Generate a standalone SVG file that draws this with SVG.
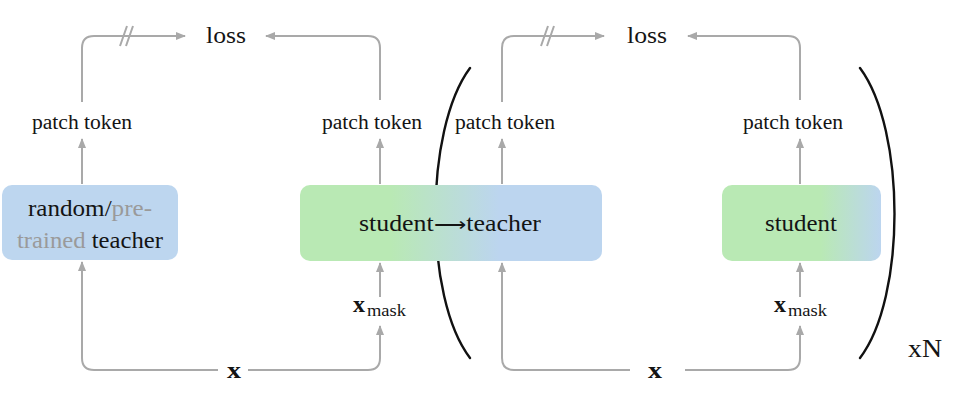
<svg xmlns="http://www.w3.org/2000/svg" width="975" height="415" viewBox="0 0 975 415" font-family="'Liberation Serif', 'Times New Roman', serif">
<style>
.t{font-family:'Liberation Serif','Times New Roman',serif;fill:#141414}
.g{fill:#9a9a9a}
.b{font-weight:bold}
.c{fill:none;stroke:#a9a9a9;stroke-width:2}
.br{fill:none;stroke:#111;stroke-width:2.4;stroke-linecap:round}
</style>
<defs>
<marker id="ah" markerWidth="10" markerHeight="8" refX="9" refY="4" orient="auto" markerUnits="userSpaceOnUse">
<path d="M0,0 L10,4 L0,8 Z" fill="#a9a9a9"/>
</marker>
<linearGradient id="gm" x1="0" y1="0" x2="1" y2="0">
<stop offset="0.3" stop-color="#b9e9b4"/>
<stop offset="0.66" stop-color="#bcd5ef"/>
</linearGradient>
<linearGradient id="gr" x1="0" y1="0" x2="1" y2="0">
<stop offset="0.62" stop-color="#b9e9b4"/>
<stop offset="1" stop-color="#bcd5ef"/>
</linearGradient>
</defs>
<rect width="975" height="415" fill="#fff"/>

<g id="brackets">
<path class="br" d="M470,68 C424,130 424,298 470,358"/>
<path class="br" d="M860,68 C906,130 906,298 860,358"/>
</g>

<g id="connectors">
<path class="c" d="M82,102 V48 Q82,36 94,36 H185" marker-end="url(#ah)"/>
<path class="c" d="M120,46 L127,26 M126,46 L133,26"/>
<path class="c" d="M380,100 V48 Q380,36 368,36 H266" marker-end="url(#ah)"/>
<path class="c" d="M82,184 V139" marker-end="url(#ah)"/>
<path class="c" d="M380,184 V139" marker-end="url(#ah)"/>
<path class="c" d="M218,370 H94 Q82,370 82,358 V262" marker-end="url(#ah)"/>
<path class="c" d="M248,370 H368 Q380,370 380,358 V326" marker-end="url(#ah)"/>
<path class="c" d="M380,297 V263" marker-end="url(#ah)"/>

<path class="c" d="M502,102 V48 Q502,36 514,36 H604" marker-end="url(#ah)"/>
<path class="c" d="M541,46 L548,26 M547,46 L554,26"/>
<path class="c" d="M800,100 V48 Q800,36 788,36 H688" marker-end="url(#ah)"/>
<path class="c" d="M502,184 V139" marker-end="url(#ah)"/>
<path class="c" d="M800,184 V139" marker-end="url(#ah)"/>
<path class="c" d="M630,370 H514 Q502,370 502,358 V263" marker-end="url(#ah)"/>
<path class="c" d="M685,370 H788 Q800,370 800,358 V326" marker-end="url(#ah)"/>
<path class="c" d="M800,297 V263" marker-end="url(#ah)"/>
</g>

<g id="teacher0">
<rect x="2" y="185" width="176" height="75" rx="10" fill="#bdd6ef"/>
<text class="t" x="90" y="216" font-size="23" text-anchor="middle" textLength="124" lengthAdjust="spacingAndGlyphs">random/<tspan class="g">pre-</tspan></text>
<text class="t" x="90" y="248" font-size="23" text-anchor="middle" textLength="146" lengthAdjust="spacingAndGlyphs"><tspan class="g">trained</tspan> teacher</text>
</g>

<g id="student-teacher">
<rect x="300" y="185" width="302" height="76" rx="10" fill="url(#gm)"/>
<text class="t" x="450" y="231" font-size="23" text-anchor="middle" textLength="182" lengthAdjust="spacingAndGlyphs">student<tspan font-size="20">⟶</tspan>teacher</text>
</g>

<g id="student">
<rect x="722" y="185" width="159" height="76" rx="10" fill="url(#gr)"/>
<text class="t" x="801" y="231" font-size="23" text-anchor="middle" textLength="72" lengthAdjust="spacingAndGlyphs">student</text>
</g>

<g id="labels">
<text class="t" x="226" y="43" font-size="23" text-anchor="middle" textLength="40" lengthAdjust="spacingAndGlyphs">loss</text>
<text class="t" x="647" y="43" font-size="23" text-anchor="middle" textLength="40" lengthAdjust="spacingAndGlyphs">loss</text>
<text class="t" x="82" y="129" font-size="20" text-anchor="middle" textLength="100" lengthAdjust="spacingAndGlyphs">patch token</text>
<text class="t" x="372" y="129" font-size="20" text-anchor="middle" textLength="100" lengthAdjust="spacingAndGlyphs">patch token</text>
<text class="t" x="505" y="129" font-size="20" text-anchor="middle" textLength="100" lengthAdjust="spacingAndGlyphs">patch token</text>
<text class="t" x="793" y="129" font-size="20" text-anchor="middle" textLength="100" lengthAdjust="spacingAndGlyphs">patch token</text>
<text class="t b" x="234" y="378" font-size="24" text-anchor="middle" textLength="14" lengthAdjust="spacingAndGlyphs">x</text>
<text class="t b" x="655" y="378" font-size="24" text-anchor="middle" textLength="14" lengthAdjust="spacingAndGlyphs">x</text>
<text class="t" x="353" y="312" font-size="24"><tspan class="b">x</tspan><tspan x="367" y="316" font-size="17" textLength="39" lengthAdjust="spacingAndGlyphs">mask</tspan></text>
<text class="t" x="774" y="312" font-size="24"><tspan class="b">x</tspan><tspan x="788" y="316" font-size="17" textLength="39" lengthAdjust="spacingAndGlyphs">mask</tspan></text>
<text class="t" x="908" y="357" font-size="25" textLength="34" lengthAdjust="spacingAndGlyphs">xN</text>
</g>
</svg>
